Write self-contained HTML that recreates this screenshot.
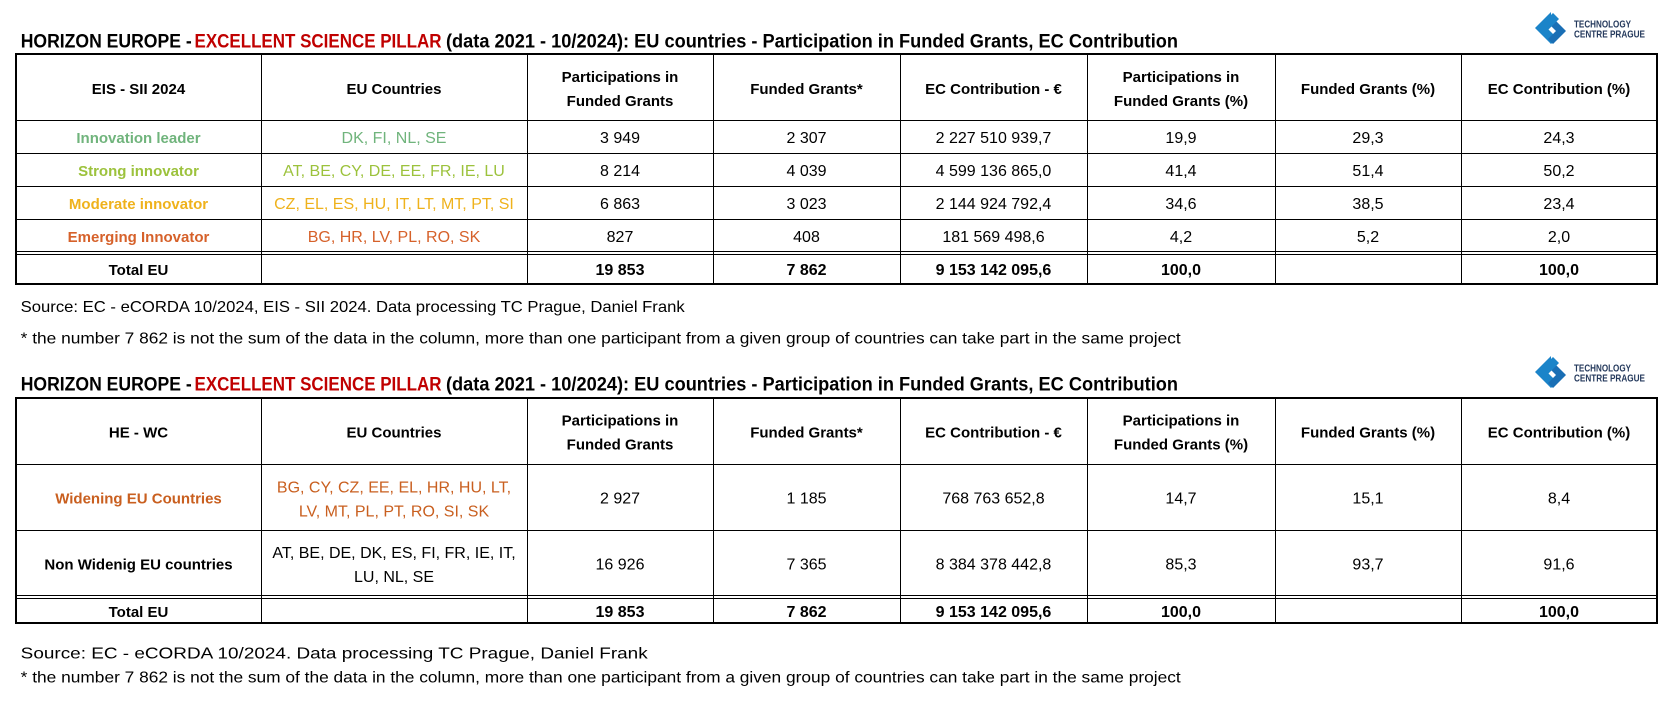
<!DOCTYPE html>
<html><head><meta charset="utf-8"><style>
html,body{margin:0;padding:0;background:#fff;}
svg{display:block;}
text{font-family:"Liberation Sans",Arial,sans-serif;}
.h{font-weight:bold;font-size:15px;fill:#000;text-anchor:middle;}
.d{font-size:16px;fill:#000;text-anchor:middle;}
.b{font-size:16px;font-weight:bold;fill:#000;text-anchor:middle;}
.l{font-weight:bold;font-size:15px;text-anchor:middle;}
.t{font-weight:bold;font-size:19.5px;}
.s{font-size:16px;fill:#000;}
.g{fill:#70b47c;} .y{fill:#9cc23c;} .o{fill:#efb21c;} .e{fill:#d6612a;} .w{fill:#c95f1f;}
</style></head><body>
<svg width="1674" height="710" viewBox="0 0 1674 710" xmlns="http://www.w3.org/2000/svg">
<defs>
<g id="logo">
  <path d="M1551 12 L1535 28 L1551 44 L1557 38 L1547 28 L1551 24 Z" fill="#1b84c9"/>
  <path d="M1553 18 L1566 31 L1553 44 L1548 39 L1556 31 L1548 23 Z" fill="#1a6fb5"/>
  <path d="M1542 24 L1553 13 L1559 19 L1548 30 Z" fill="#1b84c9"/>
  <text x="1574" y="27.5" font-size="10" font-weight="bold" fill="#24395c" textLength="57" lengthAdjust="spacingAndGlyphs">TECHNOLOGY</text>
  <text x="1574" y="37.5" font-size="10" font-weight="bold" fill="#24395c" textLength="71" lengthAdjust="spacingAndGlyphs">CENTRE PRAGUE</text>
</g>
</defs>

<!-- ===== TABLE 1 ===== -->
<text class="t" x="20.7" y="47.5" fill="#000" textLength="171" lengthAdjust="spacingAndGlyphs">HORIZON EUROPE -</text>
<text class="t" x="194.5" y="47.5" fill="#c00000" textLength="247" lengthAdjust="spacingAndGlyphs">EXCELLENT SCIENCE PILLAR</text>
<text class="t" x="446" y="47.5" fill="#000" textLength="732" lengthAdjust="spacingAndGlyphs">(data 2021 - 10/2024):  EU countries - Participation in Funded Grants, EC Contribution</text>
<use href="#logo"/>

<g stroke="#000" stroke-width="1" fill="none">
  <line x1="16" y1="120.5" x2="1657" y2="120.5"/>
  <line x1="16" y1="153.5" x2="1657" y2="153.5"/>
  <line x1="16" y1="186.5" x2="1657" y2="186.5"/>
  <line x1="16" y1="219.5" x2="1657" y2="219.5"/>
  <line x1="16" y1="251.5" x2="1657" y2="251.5"/>
  <line x1="16" y1="254.5" x2="1657" y2="254.5"/>
  <line x1="261.5" y1="54" x2="261.5" y2="284"/>
  <line x1="527.5" y1="54" x2="527.5" y2="284"/>
  <line x1="713.5" y1="54" x2="713.5" y2="284"/>
  <line x1="900.5" y1="54" x2="900.5" y2="284"/>
  <line x1="1087.5" y1="54" x2="1087.5" y2="284"/>
  <line x1="1275.5" y1="54" x2="1275.5" y2="284"/>
  <line x1="1461.5" y1="54" x2="1461.5" y2="284"/>
  <rect x="16" y="54" width="1641" height="230" stroke-width="2"/>
</g>

<text class="h" x="138.5" y="94">EIS - SII 2024</text>
<text class="h" x="394" y="94">EU Countries</text>
<text class="h" x="620" y="82">Participations in</text>
<text class="h" x="620" y="106">Funded Grants</text>
<text class="h" x="806.5" y="94">Funded Grants*</text>
<text class="h" x="993.5" y="94">EC Contribution - €</text>
<text class="h" x="1181" y="82">Participations in</text>
<text class="h" x="1181" y="106">Funded Grants (%)</text>
<text class="h" x="1368" y="94">Funded Grants (%)</text>
<text class="h" x="1559" y="94">EC Contribution (%)</text>

<text class="l g" x="138.5" y="143">Innovation leader</text>
<text class="d g" x="394" y="143">DK, FI, NL, SE</text>
<text class="d" x="620" y="143">3 949</text>
<text class="d" x="806.5" y="143">2 307</text>
<text class="d" x="993.5" y="143">2 227 510 939,7</text>
<text class="d" x="1181" y="143">19,9</text>
<text class="d" x="1368" y="143">29,3</text>
<text class="d" x="1559" y="143">24,3</text>

<text class="l y" x="138.5" y="176">Strong innovator</text>
<text class="d y" x="394" y="176">AT, BE, CY, DE, EE, FR, IE, LU</text>
<text class="d" x="620" y="176">8 214</text>
<text class="d" x="806.5" y="176">4 039</text>
<text class="d" x="993.5" y="176">4 599 136 865,0</text>
<text class="d" x="1181" y="176">41,4</text>
<text class="d" x="1368" y="176">51,4</text>
<text class="d" x="1559" y="176">50,2</text>

<text class="l o" x="138.5" y="209">Moderate innovator</text>
<text class="d o" x="394" y="209">CZ, EL, ES, HU, IT, LT, MT, PT, SI</text>
<text class="d" x="620" y="209">6 863</text>
<text class="d" x="806.5" y="209">3 023</text>
<text class="d" x="993.5" y="209">2 144 924 792,4</text>
<text class="d" x="1181" y="209">34,6</text>
<text class="d" x="1368" y="209">38,5</text>
<text class="d" x="1559" y="209">23,4</text>

<text class="l e" x="138.5" y="242">Emerging Innovator</text>
<text class="d e" x="394" y="242">BG, HR, LV, PL, RO, SK</text>
<text class="d" x="620" y="242">827</text>
<text class="d" x="806.5" y="242">408</text>
<text class="d" x="993.5" y="242">181 569 498,6</text>
<text class="d" x="1181" y="242">4,2</text>
<text class="d" x="1368" y="242">5,2</text>
<text class="d" x="1559" y="242">2,0</text>

<text class="h" x="138.5" y="275">Total EU</text>
<text class="b" x="620" y="275">19 853</text>
<text class="b" x="806.5" y="275">7 862</text>
<text class="b" x="993.5" y="275">9 153 142 095,6</text>
<text class="b" x="1181" y="275">100,0</text>
<text class="b" x="1559" y="275">100,0</text>

<text class="s" x="20.7" y="312" textLength="664" lengthAdjust="spacingAndGlyphs">Source: EC - eCORDA 10/2024, EIS - SII 2024. Data processing TC Prague, Daniel Frank</text>
<text class="s" x="20.7" y="343.3" textLength="1160" lengthAdjust="spacingAndGlyphs">* the number 7 862 is not the sum of the data in the column, more than one participant from a given group of countries can take part in the same project</text>

<!-- ===== TABLE 2 ===== -->
<text class="t" x="20.7" y="390.7" fill="#000" textLength="171" lengthAdjust="spacingAndGlyphs">HORIZON EUROPE -</text>
<text class="t" x="194.5" y="390.7" fill="#c00000" textLength="247" lengthAdjust="spacingAndGlyphs">EXCELLENT SCIENCE PILLAR</text>
<text class="t" x="446" y="390.7" fill="#000" textLength="732" lengthAdjust="spacingAndGlyphs">(data 2021 - 10/2024):  EU countries - Participation in Funded Grants, EC Contribution</text>
<use href="#logo" transform="translate(0,344)"/>

<g stroke="#000" stroke-width="1" fill="none">
  <line x1="16" y1="464.5" x2="1657" y2="464.5"/>
  <line x1="16" y1="530.5" x2="1657" y2="530.5"/>
  <line x1="16" y1="595.5" x2="1657" y2="595.5"/>
  <line x1="16" y1="598.5" x2="1657" y2="598.5"/>
  <line x1="261.5" y1="398" x2="261.5" y2="623"/>
  <line x1="527.5" y1="398" x2="527.5" y2="623"/>
  <line x1="713.5" y1="398" x2="713.5" y2="623"/>
  <line x1="900.5" y1="398" x2="900.5" y2="623"/>
  <line x1="1087.5" y1="398" x2="1087.5" y2="623"/>
  <line x1="1275.5" y1="398" x2="1275.5" y2="623"/>
  <line x1="1461.5" y1="398" x2="1461.5" y2="623"/>
  <rect x="16" y="398" width="1641" height="225" stroke-width="2"/>
</g>

<text class="h" x="138.5" y="437.5">HE - WC</text>
<text class="h" x="394" y="437.5">EU Countries</text>
<text class="h" x="620" y="425.5">Participations in</text>
<text class="h" x="620" y="449.5">Funded Grants</text>
<text class="h" x="806.5" y="437.5">Funded Grants*</text>
<text class="h" x="993.5" y="437.5">EC Contribution - €</text>
<text class="h" x="1181" y="425.5">Participations in</text>
<text class="h" x="1181" y="449.5">Funded Grants (%)</text>
<text class="h" x="1368" y="437.5">Funded Grants (%)</text>
<text class="h" x="1559" y="437.5">EC Contribution (%)</text>

<text class="l w" x="138.5" y="503.5">Widening EU Countries</text>
<text class="d w" x="394" y="492.3">BG, CY, CZ, EE, EL, HR, HU, LT,</text>
<text class="d w" x="394" y="516.7">LV, MT, PL, PT, RO, SI, SK</text>
<text class="d" x="620" y="503.5">2 927</text>
<text class="d" x="806.5" y="503.5">1 185</text>
<text class="d" x="993.5" y="503.5">768 763 652,8</text>
<text class="d" x="1181" y="503.5">14,7</text>
<text class="d" x="1368" y="503.5">15,1</text>
<text class="d" x="1559" y="503.5">8,4</text>

<text class="h" x="138.5" y="569.5">Non Widenig EU countries</text>
<text class="d" x="394" y="558">AT, BE, DE, DK, ES, FI, FR, IE, IT,</text>
<text class="d" x="394" y="582">LU, NL, SE</text>
<text class="d" x="620" y="569.5">16 926</text>
<text class="d" x="806.5" y="569.5">7 365</text>
<text class="d" x="993.5" y="569.5">8 384 378 442,8</text>
<text class="d" x="1181" y="569.5">85,3</text>
<text class="d" x="1368" y="569.5">93,7</text>
<text class="d" x="1559" y="569.5">91,6</text>

<text class="h" x="138.5" y="617">Total EU</text>
<text class="b" x="620" y="617">19 853</text>
<text class="b" x="806.5" y="617">7 862</text>
<text class="b" x="993.5" y="617">9 153 142 095,6</text>
<text class="b" x="1181" y="617">100,0</text>
<text class="b" x="1559" y="617">100,0</text>

<text class="s" x="20.7" y="658.3" textLength="627" lengthAdjust="spacingAndGlyphs">Source: EC - eCORDA 10/2024. Data processing TC Prague, Daniel Frank</text>
<text class="s" x="20.7" y="682.7" textLength="1160" lengthAdjust="spacingAndGlyphs">* the number 7 862 is not the sum of the data in the column, more than one participant from a given group of countries can take part in the same project</text>
</svg>
</body></html>
